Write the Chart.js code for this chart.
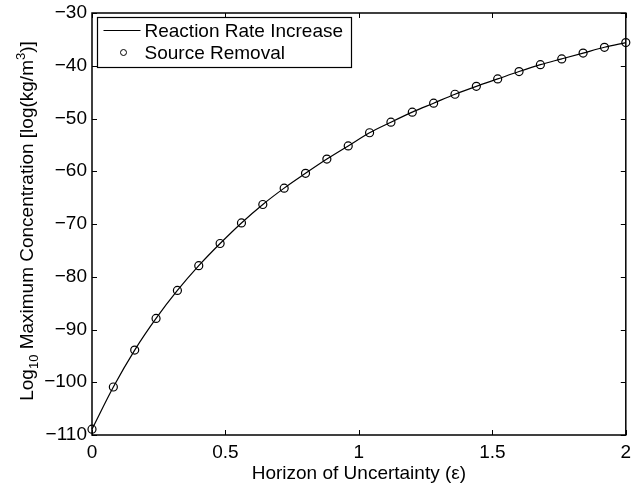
<!DOCTYPE html>
<html>
<head>
<meta charset="utf-8">
<script src="https://cdn.jsdelivr.net/npm/chart.js@4/dist/chart.umd.min.js"></script>
<style>
  html, body { margin: 0; padding: 0; background: #fff; }
  canvas { display: block; }
</style>
</head>
<body>
<canvas id="grafic" width="631" height="485"></canvas>
<script>
// date
var orizont = [0, 0.08, 0.16, 0.24, 0.32, 0.40, 0.48, 0.56, 0.64, 0.72, 0.80, 0.88, 0.96,
               1.04, 1.12, 1.20, 1.28, 1.36, 1.44, 1.52, 1.60, 1.68, 1.76, 1.84, 1.92, 2.00];
var concentratie = [-108.9, -100.9, -93.9, -87.9, -82.6, -77.9, -73.7, -69.8, -66.3, -63.2,
                    -60.4, -57.7, -55.2, -52.7, -50.7, -48.8, -47.1, -45.4, -43.9, -42.5,
                    -41.1, -39.8, -38.7, -37.6, -36.5, -35.6];
var eticheta_linie = 'Reaction Rate Increase';
var eticheta_puncte = 'Source Removal';
var ticks_x = [0, 0.5, 1, 1.5, 2];
var ticks_y = [-110, -100, -90, -80, -70, -60, -50, -40, -30];

var font = '"Liberation Sans", Arial, Helvetica, sans-serif';
var puncte = orizont.map((x, i) => ({ x: x, y: concentratie[i] }));

// rama + tick-uri spre interior, ca in MATLAB
var ramaPlugin = {
    id: 'rama',
    afterDatasetsDraw(chart) {
        var ctx = chart.ctx, a = chart.chartArea;
        var sx = chart.scales.x, sy = chart.scales.y;
        ctx.save();
        ctx.strokeStyle = '#000';
        ctx.lineWidth = 1;
        ctx.beginPath();
        ticks_x.forEach(v => {
            var px = Math.round(sx.getPixelForValue(v)) + 0.5;
            ctx.moveTo(px, a.bottom); ctx.lineTo(px, a.bottom - 5);
            ctx.moveTo(px, a.top); ctx.lineTo(px, a.top + 5);
        });
        ticks_y.forEach(v => {
            var py = Math.round(sy.getPixelForValue(v)) + 0.5;
            ctx.moveTo(a.left, py); ctx.lineTo(a.left + 5, py);
            ctx.moveTo(a.right, py); ctx.lineTo(a.right - 5, py);
        });
        ctx.stroke();
        ctx.lineWidth = 1.5;
        ctx.strokeRect(a.left, a.top, a.right - a.left, a.bottom - a.top);

        // legenda in coltul stanga sus
        var lx = a.left + 5.5, ly = a.top + 4.5, lw = 254, lh = 50;
        ctx.fillStyle = '#fff';
        ctx.fillRect(lx, ly, lw, lh);
        ctx.lineWidth = 1.2;
        ctx.strokeRect(lx, ly, lw, lh);
        ctx.lineWidth = 1;
        ctx.beginPath();
        ctx.moveTo(lx + 6, ly + 13); ctx.lineTo(lx + 43, ly + 13);
        ctx.stroke();
        ctx.beginPath();
        ctx.arc(lx + 26, ly + 35, 3, 0, Math.PI * 2);
        ctx.stroke();
        ctx.fillStyle = '#000';
        ctx.font = '19px ' + font;
        ctx.textBaseline = 'middle';
        ctx.fillText(eticheta_linie, lx + 47, ly + 14);
        ctx.fillText(eticheta_puncte, lx + 47, ly + 36);

        // titlul axei y, cu indice si exponent
        var bucati = [['Log', 0], ['10', 1], [' Maximum Concentration [log(kg/m', 0], ['3', -1], [')]', 0]];
        var mare = '19px ' + font, mic = '13px ' + font;
        var total = 0;
        bucati.forEach(b => { ctx.font = b[1] ? mic : mare; total += ctx.measureText(b[0]).width; });
        ctx.translate(33, (a.top + a.bottom) / 2 - 3);
        ctx.rotate(-Math.PI / 2);
        ctx.textBaseline = 'alphabetic';
        var x = -total / 2;
        bucati.forEach(b => {
            ctx.font = b[1] ? mic : mare;
            ctx.fillText(b[0], x, b[1] * 5 + (b[1] < 0 ? -3 : 0));
            x += ctx.measureText(b[0]).width;
        });
        ctx.restore();
    }
};

var ctx = document.getElementById('grafic').getContext('2d');
new Chart(ctx, {
    type: 'scatter',
    data: {
        datasets: [{
            type: 'line',
            label: eticheta_linie,
            data: puncte,
            borderColor: '#000',
            borderWidth: 1.2,
            pointRadius: 0,
            cubicInterpolationMode: 'monotone',
            fill: false
        }, {
            label: eticheta_puncte,
            data: puncte,
            showLine: false,
            pointRadius: 4,
            pointBorderWidth: 1.2,
            pointBorderColor: '#000',
            pointBackgroundColor: 'rgba(0,0,0,0)'
        }]
    },
    options: {
        responsive: false,
        animation: false,
        clip: false,
        layout: { padding: { top: 13, right: 3, left: 0, bottom: 0 } },
        plugins: { legend: { display: false }, tooltip: { enabled: false } },
        scales: {
            x: {
                type: 'linear',
                min: 0, max: 2,
                afterBuildTicks: s => { s.ticks = ticks_x.map(v => ({ value: v })); },
                afterFit: s => { s.height = 50; s.paddingLeft = 0; s.paddingRight = 0; },
                grid: { display: false, drawTicks: false },
                border: { display: false },
                ticks: {
                    color: '#000', padding: 6, maxRotation: 0, font: { family: font, size: 19 },
                    callback: v => String(v)
                },
                title: {
                    display: true, text: 'Horizon of Uncertainty (ε)', color: '#000',
                    padding: { top: 0, bottom: 0 }, font: { family: font, size: 19 }
                }
            },
            y: {
                min: -110, max: -30,
                afterBuildTicks: s => { s.ticks = ticks_y.map(v => ({ value: v })); },
                afterFit: s => { s.width = 92; s.paddingTop = 0; s.paddingBottom = 0; },
                grid: { display: false, drawTicks: false },
                border: { display: false },
                ticks: {
                    color: '#000', padding: 5, font: { family: font, size: 19 },
                    callback: v => String(v).replace('-', '\u2212')
                }
            }
        }
    },
    plugins: [ramaPlugin]
});
</script>
</body>
</html>
